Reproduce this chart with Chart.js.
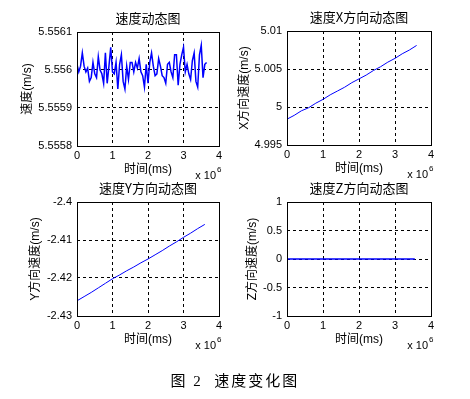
<!DOCTYPE html>
<html>
<head>
<meta charset="utf-8">
<script src="https://cdn.jsdelivr.net/npm/chart.js@4.4.0/dist/chart.umd.min.js"></script>
<style>
  body { margin: 0; background: #fff; }
  #wrap { position: relative; width: 470px; height: 399px; overflow: hidden; background: #fff; }
  #wrap canvas { position: absolute; left: 0; top: 0; }
  #caption {
    position: absolute; left: 0; width: 470px; top: 369px;
    text-align: center; color: #000;
    font: 15px 'Liberation Serif', 'Noto Sans CJK SC', serif;
    letter-spacing: 2px;
  }
</style>
</head>
<body>
<div id="wrap">
  <canvas id="cSpeed" width="470" height="399"></canvas>
  <canvas id="cVx" width="470" height="399"></canvas>
  <canvas id="cVy" width="470" height="399"></canvas>
  <canvas id="cVz" width="470" height="399"></canvas>
  <div id="caption">图 2&nbsp;&nbsp;速度变化图</div>
</div>
<script>
// time in units of 10^6 ms
const timeDense = [0, 0.05, 0.1, 0.15, 0.2, 0.25, 0.3, 0.35, 0.4, 0.45,
  0.5, 0.55, 0.6, 0.65, 0.7, 0.75, 0.8, 0.85, 0.9, 0.95,
  1.0, 1.05, 1.1, 1.15, 1.2, 1.25, 1.3, 1.35, 1.4, 1.45,
  1.5, 1.55, 1.6, 1.65, 1.7, 1.75, 1.8, 1.85, 1.9, 1.95,
  2.0, 2.05, 2.1, 2.15, 2.2, 2.25, 2.3, 2.35, 2.4, 2.45,
  2.5, 2.55, 2.6, 2.65, 2.7, 2.75, 2.8, 2.85, 2.9, 2.95,
  3.0, 3.05, 3.1, 3.15, 3.2, 3.25, 3.3, 3.35, 3.4, 3.45,
  3.5, 3.55, 3.6, 3.65];
const timeSparse = [0, 0.2, 0.4, 0.6, 0.8, 1.0, 1.2, 1.4, 1.6, 1.8,
  2.0, 2.2, 2.4, 2.6, 2.8, 3.0, 3.2, 3.4, 3.6];
const timeZ = [0, 0.5, 1.0, 1.5, 2.0, 2.5, 3.0, 3.55];

// speed magnitude (m/s)
const speed = [5.556015, 5.555995, 5.556010, 5.556045, 5.556010, 5.555995, 5.556005, 5.555970, 5.555980, 5.556020,
  5.555990, 5.555980, 5.556035, 5.556000, 5.555990, 5.555965, 5.556045, 5.555965, 5.556010, 5.556060,
  5.555995, 5.555990, 5.556020, 5.555950, 5.556015, 5.556040, 5.555970, 5.555950, 5.556010, 5.555975,
  5.556020, 5.556020, 5.555995, 5.556020, 5.556005, 5.556030, 5.555995, 5.555985, 5.555955, 5.556015,
  5.555965, 5.556020, 5.556045, 5.556010, 5.555985, 5.555990, 5.556030, 5.556010, 5.555985, 5.555980,
  5.555965, 5.556015, 5.556020, 5.555995, 5.555980, 5.556040, 5.556040, 5.555960, 5.556015, 5.556040,
  5.556060, 5.555995, 5.556015, 5.555990, 5.555975, 5.556025, 5.556045, 5.555970, 5.555955, 5.556040,
  5.556065, 5.555980, 5.556015, 5.556020];
// X / Y / Z components (m/s)
const vx = [4.9984, 4.9989, 4.9995, 4.9999, 5.0005, 5.0010, 5.0016, 5.0021, 5.0026, 5.0032,
  5.0037, 5.0042, 5.0048, 5.0053, 5.0059, 5.0064, 5.0070, 5.0075, 5.0081];
const vy = [-2.4260, -2.4249, -2.4238, -2.4226, -2.4214, -2.4202, -2.4192, -2.4181, -2.4171, -2.4160,
  -2.4150, -2.4139, -2.4128, -2.4116, -2.4105, -2.4093, -2.4082, -2.4070, -2.4059];
const vz = [0, 0, 0, 0, 0, 0, 0, 0];

// tick labels
const xTicks = [0, 1, 2, 3, 4];
const speedTicks = [5.5558, 5.5559, 5.556, 5.5561];
const vxTicks = [4.995, 5, 5.005, 5.01];
const vyTicks = [-2.43, -2.42, -2.41, -2.4];
const vzTicks = [-1, -0.5, 0, 0.5, 1];

const latin = "'Liberation Sans', Arial, 'Noto Sans CJK SC', sans-serif";
const cjk = "'Noto Sans CJK SC', 'Liberation Sans', sans-serif";

// title, box and x10^6 note drawn on top of each plot
const framePlugin = {
  id: 'frame',
  afterDraw(chart, args, opts) {
    const { ctx, chartArea: a } = chart;
    ctx.save();
    ctx.strokeStyle = '#000';
    ctx.lineWidth = 1;
    ctx.setLineDash([]);
    ctx.strokeRect(a.left + 0.5, a.top + 0.5, a.right - a.left, a.bottom - a.top);

    ctx.fillStyle = '#000';
    ctx.textAlign = 'center';
    ctx.textBaseline = 'middle';
    ctx.font = '13px ' + cjk;
    ctx.fillText(opts.title, (a.left + a.right) / 2, a.top - 14);

    ctx.font = '11px ' + latin;
    ctx.textAlign = 'right';
    ctx.fillText('x 10', a.right - 3, a.bottom + 30);
    ctx.font = '8px ' + latin;
    ctx.textAlign = 'left';
    ctx.fillText('6', a.right - 2, a.bottom + 24);
    ctx.restore();
  }
};

function makeChart(id, box, xs, ys, yTicks, opts) {
  const yMin = yTicks[0], yMax = yTicks[yTicks.length - 1];
  const gridColor = (min, max) => (c) =>
    (c.tick && (Math.abs(c.tick.value - min) < 1e-9 || Math.abs(c.tick.value - max) < 1e-9)) ? 'rgba(0,0,0,0)' : '#000';
  return new Chart(document.getElementById(id), {
    type: 'line',
    data: {
      datasets: [{
        data: xs.map((x, i) => ({ x: x, y: ys[i] })),
        borderColor: '#0000ff',
        borderWidth: opts.lineWidth,
        pointRadius: 0,
        tension: 0,
        fill: false
      }]
    },
    options: {
      responsive: false,
      animation: false,
      devicePixelRatio: 1,
      layout: {
        padding: { left: box.l - 60, top: box.t, right: 470 - box.r, bottom: 399 - box.b - 40 }
      },
      plugins: {
        legend: { display: false },
        tooltip: { enabled: false },
        frame: { title: opts.title }
      },
      scales: {
        x: {
          type: 'linear',
          min: 0,
          max: 4,
          afterBuildTicks: (s) => { s.ticks = xTicks.map(v => ({ value: v })); },
          afterFit: (s) => { s.height = 40; },
          border: { display: false, dash: [3, 3] },
          grid: { color: gridColor(0, 4), drawTicks: false, lineWidth: 1 },
          ticks: { color: '#000', padding: 3, font: { family: latin, size: 11 }, maxRotation: 0 },
          title: {
            display: true,
            text: '时间(ms)',
            color: '#000',
            font: { family: latin, size: 12 },
            padding: { top: 0, bottom: 9 }
          }
        },
        y: {
          type: 'linear',
          min: yMin,
          max: yMax,
          afterBuildTicks: (s) => { s.ticks = yTicks.map(v => ({ value: v })); },
          afterFit: (s) => { s.width = 60; },
          border: { display: false, dash: [3, 3] },
          grid: { color: gridColor(yMin, yMax), drawTicks: false, lineWidth: 1 },
          ticks: {
            color: '#000',
            padding: 5,
            font: { family: latin, size: 11 },
            callback: (v) => String(v)
          },
          title: {
            display: true,
            text: opts.yLabel,
            color: '#000',
            font: { family: latin, size: 12 },
            padding: { top: opts.yTitlePad, bottom: 0 }
          }
        }
      }
    },
    plugins: [framePlugin]
  });
}

makeChart('cSpeed', { l: 77, t: 32, r: 219, b: 146 }, timeDense, speed, speedTicks,
  { title: '速度动态图', yLabel: '速度(m/s)', yTitlePad: 3, lineWidth: 1.5 });
makeChart('cVx', { l: 287, t: 31, r: 431, b: 145 }, timeSparse, vx, vxTicks,
  { title: '速度X方向动态图', yLabel: 'X方向速度(m/s)', yTitlePad: 10, lineWidth: 1 });
makeChart('cVy', { l: 77, t: 202, r: 219, b: 316 }, timeSparse, vy, vyTicks,
  { title: '速度Y方向动态图', yLabel: 'Y方向速度(m/s)', yTitlePad: 11, lineWidth: 1 });
makeChart('cVz', { l: 287, t: 202, r: 431, b: 316 }, timeZ, vz, vzTicks,
  { title: '速度Z方向动态图', yLabel: 'Z方向速度(m/s)', yTitlePad: 18, lineWidth: 1.5 });
</script>
</body>
</html>
